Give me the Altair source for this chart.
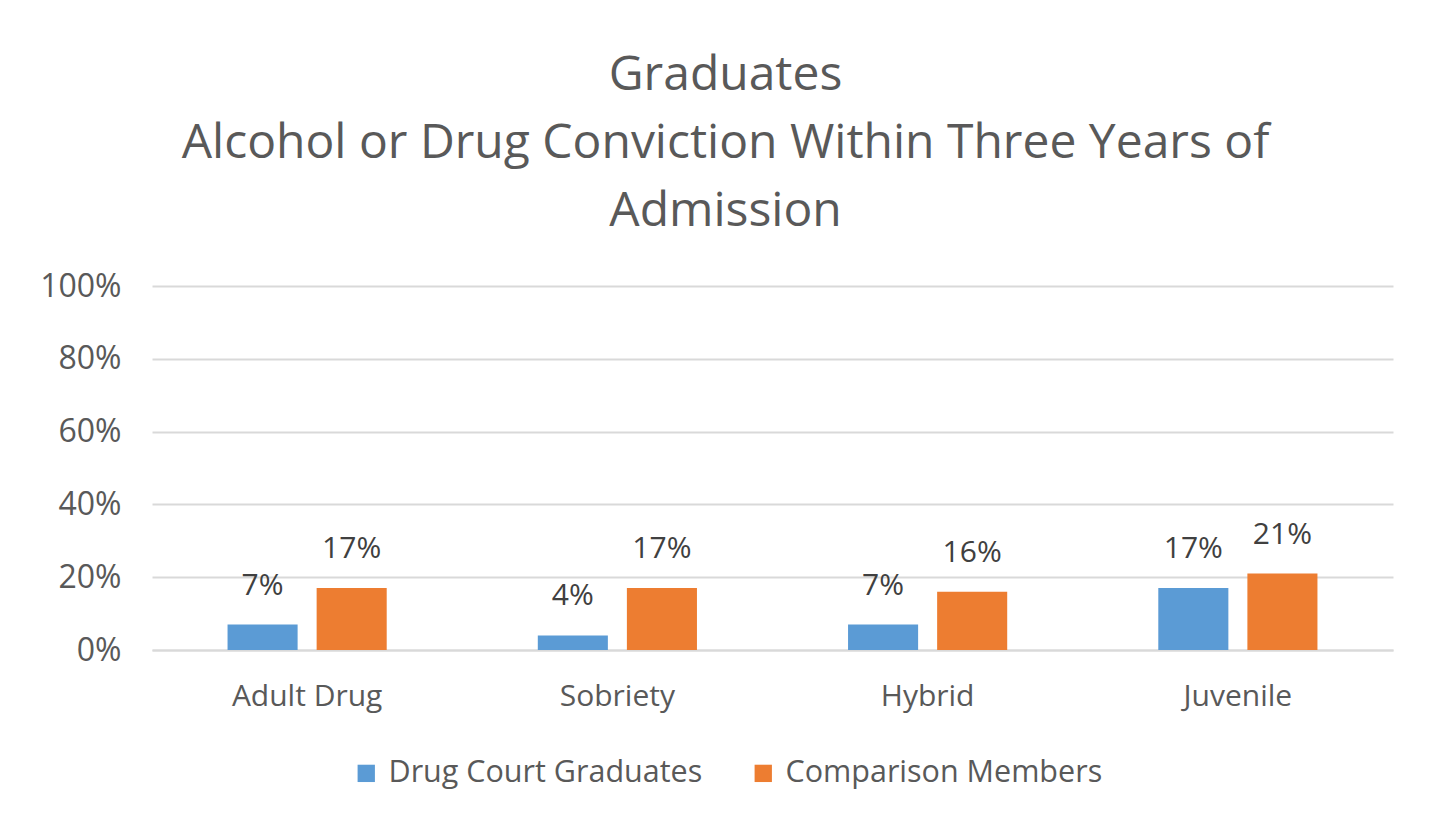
import altair as alt
import pandas as pd

categories = ["Adult Drug", "Sobriety", "Hybrid", "Juvenile"]
series = ["Drug Court Graduates", "Comparison Members"]
graduates = [0.07, 0.04, 0.07, 0.17]
comparison = [0.17, 0.17, 0.16, 0.21]
colors = ["#5b9bd5", "#ed7d31"]

rows = []
for c, g, m in zip(categories, graduates, comparison):
    rows.append({"cat": c, "series": series[0], "val": g})
    rows.append({"cat": c, "series": series[1], "val": m})
df = pd.DataFrame(rows)

FONT = "Open Sans"
TXT = "#595959"

x = alt.X("cat:N", sort=categories, title=None,
          scale=alt.Scale(paddingInner=0, paddingOuter=0),
          axis=alt.Axis(labelAngle=0, labelFontSize=30, labelColor=TXT, labelFont=FONT,
                        labelPadding=31, ticks=False, domain=True, domainColor="#d9d9d9",
                        domainWidth=2, grid=False))
xo = alt.XOffset("series:N", sort=series,
                 scale=alt.Scale(paddingInner=0.2135, paddingOuter=0.848))
y = alt.Y("val:Q", title=None,
          scale=alt.Scale(domain=[0, 1]),
          axis=alt.Axis(format=".0%", values=[0, 0.2, 0.4, 0.6, 0.8, 1.0],
                        labelFontSize=32, labelColor=TXT, labelFont=FONT, labelPadding=31,
                        ticks=False, domain=False, gridColor="#d9d9d9", gridWidth=2))
color = alt.Color("series:N", sort=series,
                  scale=alt.Scale(domain=series, range=colors),
                  legend=alt.Legend(title=None, orient="none", direction="horizontal",
                                    legendX=199, legendY=472, symbolType="square",
                                    symbolSize=300, symbolStrokeWidth=0,
                                    labelFontSize=30.5, labelColor=TXT, labelFont=FONT,
                                    labelLimit=0, columnPadding=45, labelOffset=7))

bars = alt.Chart(df).mark_bar().encode(x=x, xOffset=xo, y=y, color=color)
labels = alt.Chart(df).mark_text(dy=-39, fontSize=30, color="#404040", font=FONT).encode(
    x=x, xOffset=xo, y=y, text=alt.Text("val:Q", format=".0%"))

chart = (bars + labels).properties(
    width=1241, height=364,
    background="white",
    autosize=alt.AutoSizeParams(type="none"),
    padding={"left": 144, "top": 278, "right": 30, "bottom": 165},
    title=alt.TitleParams(
        text=["Graduates", "Alcohol or Drug Conviction Within Three Years of", "Admission"],
        fontSize=48, font=FONT, color=TXT, fontWeight="normal", anchor="middle",
        lineHeight=68, offset=34, dx=-47),
).configure_view(strokeWidth=0)

chart.save("out.html", embed_options={"renderer": "svg", "actions": False})
